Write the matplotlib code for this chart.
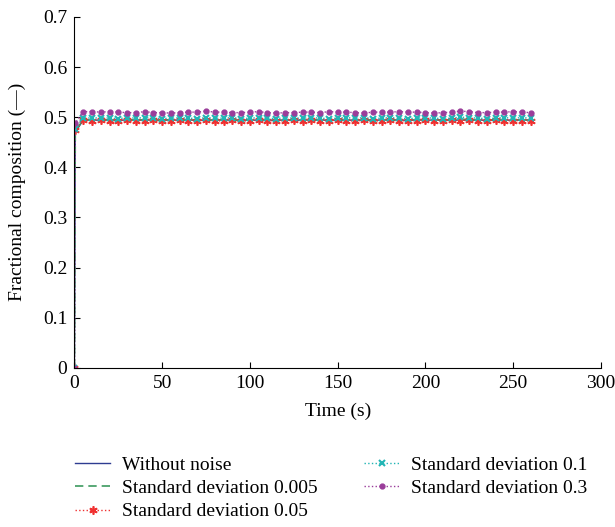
import numpy as np
import matplotlib.pyplot as plt

plt.rcParams['font.family'] = ['Liberation Serif', 'DejaVu Serif']

# sampling times (s)
time = [0, 0.5] + list(range(5, 261, 5))

# fractional composition for each noise level
without_noise = [0, 0.470] + [0.494] * 52
std_0005 = [0, 0.472] + [0.495, 0.494, 0.495, 0.494, 0.494, 0.495, 0.494, 0.495, 0.494, 0.494,
                         0.495, 0.494, 0.494, 0.495, 0.494, 0.494, 0.495, 0.494, 0.494, 0.495,
                         0.494, 0.495, 0.494, 0.494, 0.495, 0.494, 0.494, 0.495, 0.494, 0.494,
                         0.495, 0.494, 0.495, 0.494, 0.494, 0.495, 0.494, 0.494, 0.495, 0.494,
                         0.494, 0.495, 0.494, 0.496, 0.495, 0.494, 0.494, 0.495, 0.494, 0.495,
                         0.494, 0.494]
std_005 = [0, 0.474] + [0.494, 0.493, 0.494, 0.493, 0.492, 0.494, 0.492, 0.493, 0.494, 0.492,
                        0.493, 0.494, 0.492, 0.493, 0.494, 0.493, 0.492, 0.494, 0.492, 0.493,
                        0.494, 0.493, 0.492, 0.493, 0.494, 0.493, 0.494, 0.492, 0.493, 0.494,
                        0.493, 0.492, 0.494, 0.492, 0.493, 0.494, 0.493, 0.492, 0.493, 0.494,
                        0.492, 0.493, 0.494, 0.493, 0.494, 0.492, 0.493, 0.494, 0.492, 0.493,
                        0.493, 0.492]
std_01 = [0, 0.476] + [0.499, 0.498, 0.499, 0.498, 0.497, 0.499, 0.498, 0.499, 0.498, 0.497,
                       0.498, 0.499, 0.498, 0.497, 0.499, 0.498, 0.498, 0.499, 0.497, 0.498,
                       0.499, 0.498, 0.497, 0.499, 0.498, 0.498, 0.499, 0.498, 0.497, 0.498,
                       0.499, 0.498, 0.499, 0.497, 0.498, 0.499, 0.498, 0.497, 0.498, 0.499,
                       0.498, 0.497, 0.498, 0.500, 0.499, 0.498, 0.497, 0.498, 0.499, 0.498,
                       0.499, 0.498]
std_03 = [0, 0.488] + [0.511, 0.511, 0.510, 0.511, 0.510, 0.509, 0.509, 0.511, 0.509, 0.509,
                       0.508, 0.509, 0.510, 0.510, 0.512, 0.510, 0.510, 0.509, 0.509, 0.510,
                       0.511, 0.509, 0.508, 0.509, 0.509, 0.510, 0.510, 0.509, 0.511, 0.510,
                       0.510, 0.509, 0.508, 0.510, 0.510, 0.510, 0.511, 0.510, 0.510, 0.509,
                       0.508, 0.509, 0.510, 0.512, 0.511, 0.509, 0.509, 0.510, 0.510, 0.511,
                       0.510, 0.509]

fig = plt.figure(figsize=(6.15, 5.27), dpi=100)
ax = fig.add_axes([0.121, 0.302, 0.856, 0.666])

ax.plot(time, without_noise, color='#2e3c91', lw=1.0, label='Without noise')
ax.plot(time, std_0005, color='#3c9a5f', lw=1.2, ls=(0, (5, 3)), label='Standard deviation 0.005')
# asterisk markers for the 0.05 run
ax.plot(time, std_005, color='#f03030', lw=1.0, ls=':', marker=(6, 2, 0), ms=6, mew=1.2,
        label='Standard deviation 0.05')
ax.plot(time, std_01, color='#22b5b5', lw=1.0, ls=':', marker='x', ms=4, mew=1.5,
        label='Standard deviation 0.1')
ax.plot(time, std_03, color='#9a3d9a', lw=1.0, ls=':', marker='.', ms=7,
        label='Standard deviation 0.3')

ax.set_xlim(0, 300)
ax.set_ylim(0, 0.7)
ax.set_xticks(range(0, 301, 50))
ax.set_yticks(np.arange(0, 0.71, 0.1))
ax.set_yticklabels(['0', '0.1', '0.2', '0.3', '0.4', '0.5', '0.6', '0.7'])
ax.spines['top'].set_visible(False)
ax.spines['right'].set_visible(False)
ax.tick_params(direction='in', labelsize=14, length=4, width=0.8, pad=5)
ax.set_xlabel('Time (s)', fontsize=14, labelpad=8)
ax.set_ylabel('Fractional composition (—)', fontsize=14, labelpad=12)

fig.legend(loc='upper left', bbox_to_anchor=(0.094, 0.168), ncol=2, frameon=False,
           fontsize=14, handlelength=1.8, labelspacing=0.3, columnspacing=2.4,
           handletextpad=0.6)

fig.savefig('out.png', dpi=100)
